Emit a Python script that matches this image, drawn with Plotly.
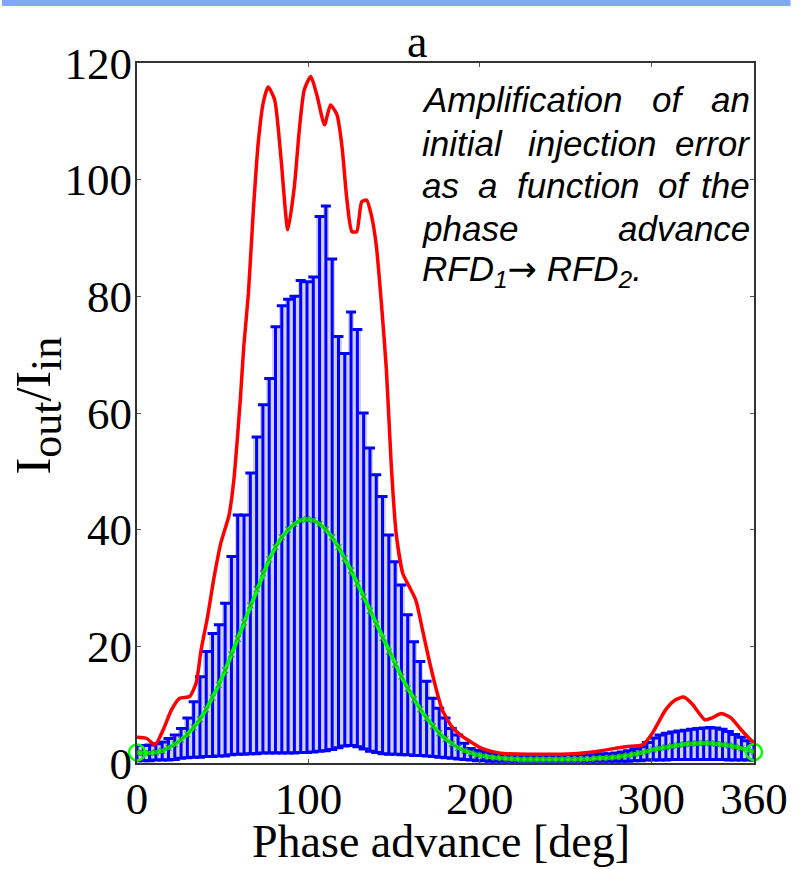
import numpy as np
import plotly.graph_objects as go

# ---------------- data ----------------
# phase grid of the error-bar scan (99 points over one turn)
phase = np.linspace(0, 360, 99)

# upper / lower end of the spread of I_out/I_in at each phase
upper = [3.0, 3.0, 3.1, 3.3, 3.6, 4.2, 4.8, 5.9,
         7.7, 10.5, 14.8, 19.1, 22.2, 23.7, 27.4, 35.4, 42.5, 42.5, 49.7, 55.9,
         61.4, 65.9, 74.8, 78.4, 79.5, 80.0, 82.7, 82.5, 83.3, 93.7, 95.5, 86.4,
         73.1, 70.2, 77.3, 74.3, 60.0, 54.0, 49.4, 45.7, 39.1, 34.5, 30.5, 25.4,
         20.8, 17.4, 14.0, 11.1, 9.4, 7.7, 5.9, 4.8, 3.4, 2.5,
         2.2, 2.0, 1.8, 1.6,
         1.5, 1.4, 1.4, 1.3, 1.3, 1.3, 1.3, 1.3, 1.3, 1.3, 1.4, 1.4, 1.4, 1.5,
         1.5, 1.5, 1.6, 1.6,
         1.7, 1.9, 2.1, 2.4, 2.8, 3.5, 4.3, 4.8, 5.1, 5.3, 5.5, 5.6, 5.8, 5.9,
         6.0, 6.1, 6.0, 5.8, 5.4, 4.9, 4.4, 3.8, 3.2]

lower = [0.4, 0.4, 0.4, 0.5, 0.5, 0.5, 0.6,
         0.8, 0.9, 1.0, 1.0, 1.1, 1.1, 1.2, 1.2,
         1.4, 1.5, 1.5, 1.6, 1.6, 1.7, 1.7, 1.7, 1.7, 1.7, 1.7, 1.8, 1.8,
         1.9, 2.0, 2.1, 2.3, 2.6, 2.9, 3.0, 2.8, 2.4,
         2.0, 1.8, 1.6, 1.5, 1.5, 1.4, 1.4, 1.3, 1.3, 1.2, 1.1, 1.0,
         0.9, 0.8, 0.7, 0.6, 0.5, 0.4, 0.4,
         0.3, 0.3, 0.3, 0.3, 0.3, 0.3, 0.3, 0.3, 0.3, 0.3, 0.3, 0.3, 0.3, 0.3,
         0.3, 0.3, 0.3, 0.3, 0.3, 0.3, 0.3, 0.3, 0.3,
         0.4, 0.4, 0.5, 0.5, 0.5, 0.5, 0.6, 0.6, 0.6, 0.6, 0.6, 0.6, 0.6, 0.6,
         0.6, 0.5, 0.5, 0.5, 0.5, 0.5]

# mean amplification on the same grid
mean_gain = [1.8, 1.7, 1.7, 1.8, 2.1, 2.6, 3.2, 4.0, 4.9, 6.1, 7.5, 9.2, 11.2,
             13.4, 15.9, 18.6, 21.3, 24.1, 27.0, 29.8, 32.5, 34.9, 37.0, 38.7,
             40.0, 41.0, 41.6, 41.8, 41.6, 41.0, 40.0, 38.7, 37.0, 35.1, 33.0,
             30.8, 28.5, 26.1, 23.8, 21.4, 19.1, 16.9, 14.8, 12.8, 10.9, 9.2,
             7.7, 6.3, 5.1, 4.1, 3.3, 2.6, 2.1, 1.7, 1.4, 1.2, 1.0, 0.9,
             0.8, 0.7, 0.7, 0.6, 0.6, 0.6, 0.6, 0.6, 0.6, 0.6, 0.6, 0.6, 0.6,
             0.7, 0.7, 0.8, 0.8, 0.9, 1.0,
             1.1, 1.3, 1.5, 1.7, 2.0, 2.3, 2.5, 2.7, 2.9, 3.1, 3.2, 3.3, 3.4,
             3.4, 3.4, 3.3, 3.2, 3.0, 2.8, 2.5, 2.2, 1.9]

# maximum amplification envelope
red_phase = [0, 5.7, 10.5, 15.3, 20.1, 24.9, 30.7, 34.5, 37.4, 41.2, 45, 48.9,
             53.7, 56.5, 58.5, 60.4, 62.3, 65, 67.9, 70.7, 73.6, 76.5, 80.3,
             84.1, 88, 91.8, 94.7, 97.6, 101.4, 105.2, 109.4, 112.9, 116.7,
             119.6, 122.5, 125.4, 128.2, 131.1, 134, 136.9, 139.7, 142.6,
             145.5, 148.4, 151.2, 155.1, 158.9, 162.7, 166.6, 170.4, 174.2,
             178.1, 183.8, 189.6, 195.3, 201.1, 206.8, 215, 230, 247, 266,
             285, 295, 300.7, 308.4, 314, 318.9, 323.7, 331.4, 335.2, 341,
             346.7, 352.5, 358.3, 360]
red_gain = [4.4, 4.2, 3.1, 5.7, 9.1, 11.1, 11.4, 13.7, 19.4, 25.1, 31.9, 37.7,
            42.5, 48.5, 55.4, 62.8, 71.4, 80.5, 94.8, 106.2, 113.1, 115.9, 113.7,
            103.4, 91.4, 98.8, 108.5, 115.4, 117.7, 114.2, 109.4, 112.8, 111.1,
            105.7, 96.5, 91.1, 91.1, 96.2, 96.5, 93.7, 88.5, 78.8,
            67.5, 50.8, 39.4, 32.5, 30.2, 27.9, 22.8, 17.7, 13.1,
            9.1, 6.2, 4.6, 3.5, 2.5, 2.0, 1.6, 1.5, 1.5, 1.9,
            2.8, 3.1, 5.1, 9.1, 10.8, 11.3, 10.2, 7.4, 7.7, 8.5,
            7.7, 5.7, 3.9, 3.5]

# green floor marks just under the axis
floor_phase = [207, 211, 215, 219, 223, 227, 231, 235, 239, 243, 247, 251,
               255, 259, 263, 267, 270]
floor_gain = [-1.0] * len(floor_phase)

# end markers of the mean curve
end_phase = [0, 360]
end_gain = [1.8, 1.9]

x_ticks = [0, 100, 200, 300, 360]
y_ticks = [0, 20, 40, 60, 80, 100, 120]

# ---------------- layout helpers ----------------
L, R, T, B = 137, 763, 63, 763
W_FIG, H_FIG = 800, 870


def fx(px):
    return (px - L) / (R - L)


def fy(py):
    return (B - py) / (B - T)


SERIF = "Liberation Serif, Times New Roman, serif"
SANS = "Liberation Sans, Arial, sans-serif"
BLUE = "#0000ff"
RED = "#ff0000"
GREEN = "#00ff00"

fig = go.Figure()

span = [u - l for u, l in zip(upper, lower)]

# pale fill between neighbouring error bars
fig.add_trace(go.Bar(
    x=phase, y=span, base=lower, width=360 / 98,
    marker=dict(color="#cfcfff", line=dict(width=0)), hoverinfo="skip"))

# spread of the amplification: vertical error bars
fig.add_trace(go.Scatter(
    x=phase, y=lower, mode="markers",
    marker=dict(size=1, color="rgba(0,0,0,0)"),
    error_y=dict(type="data", symmetric=False, array=span,
                 arrayminus=[0] * len(span), color=BLUE,
                 thickness=3, width=5),
    hoverinfo="skip"))

# envelope
fig.add_trace(go.Scatter(
    x=red_phase, y=red_gain, mode="lines",
    line=dict(color=RED, width=3.5, shape="spline", smoothing=0.6)))

# mean curve
fig.add_trace(go.Scatter(
    x=phase, y=mean_gain, mode="lines+markers",
    line=dict(color=GREEN, width=4),
    marker=dict(symbol="x-thin", size=6, color=GREEN,
                line=dict(color="#22aa22", width=1.2))))

fig.add_trace(go.Scatter(
    x=floor_phase, y=floor_gain, mode="markers", cliponaxis=False,
    marker=dict(symbol="line-ew", size=7, color=GREEN,
                line=dict(color="#33dd33", width=2.5))))

fig.add_trace(go.Scatter(
    x=end_phase, y=end_gain, mode="markers", cliponaxis=False,
    marker=dict(symbol="circle-open", size=16, color=GREEN,
                line=dict(color=GREEN, width=2.5))))

axis_common = dict(
    showgrid=False, zeroline=False, showline=True, linecolor="#333333",
    linewidth=2, mirror="ticks", ticks="inside", ticklen=4, tickwidth=1,
    tickcolor="#555555", tickfont=dict(family=SERIF, size=45, color="black"))

fig.update_xaxes(range=[0, 360], tickvals=x_ticks,
                 ticktext=[str(v) for v in x_ticks],
                 ticklabelstandoff=-5, **axis_common)
fig.update_yaxes(range=[0, 120], tickvals=y_ticks,
                 ticktext=[str(v) for v in y_ticks],
                 ticklabelstandoff=-6, **axis_common)

TXT = dict(family=SERIF, size=46, color="black")
annotations = [
    dict(text="a", x=fx(421), y=fy(42), font=TXT),
    dict(text="Phase advance [deg]", x=fx(445), y=fy(841), font=TXT),
    dict(text="I<sub><span style='font-size:44px'>out</span></sub>/"
              "I<sub><span style='font-size:44px'>in</span></sub>",
         x=fx(37), y=fy(405), textangle=-90,
         font=dict(family=SERIF, size=50, color="black")),
]

# justified italic caption inside the plot
ARIAL_W = {"A": 667, "m": 833, "p": 556, "l": 222, "i": 222, "f": 278,
           "c": 500, "a": 556, "t": 278, "o": 556, "n": 556, "j": 222,
           "e": 556, "r": 333, "s": 500, "u": 556, "h": 556, "d": 556,
           "v": 500}
CAP_SIZE = 35
CAP_LEFT, CAP_RIGHT = 424, 761
CAP_FONT = dict(family=SANS, size=CAP_SIZE, color="black", style="italic")
caption_lines = [
    ["Amplification", "of", "an"],
    ["initial", "injection", "error"],
    ["as", "a", "function", "of", "the"],
    ["phase", "advance"],
]
line_y = [100, 143, 185, 228]
for words, py in zip(caption_lines, line_y):
    widths = [sum(ARIAL_W[c] for c in w) * CAP_SIZE / 1000 for w in words]
    gap = (CAP_RIGHT - CAP_LEFT - sum(widths)) / (len(words) - 1)
    xpos = CAP_LEFT
    for k, (w, wd) in enumerate(zip(words, widths)):
        last = k == len(words) - 1
        annotations.append(dict(
            text=w, x=fx(CAP_RIGHT if last else xpos), y=fy(py),
            xanchor="right" if last else "left", font=CAP_FONT))
        xpos += wd + gap
annotations.append(dict(
    text="RFD<sub>1</sub><span style='font-family:DejaVu Sans'>\u2192</span>"
         " RFD<sub>2</sub>.",
    x=fx(CAP_LEFT), y=fy(271), xanchor="left", font=CAP_FONT))

for a in annotations:
    a.setdefault("xanchor", "center")
    a.setdefault("yanchor", "middle")
    a.update(xref="paper", yref="paper", showarrow=False)

fig.update_layout(
    width=W_FIG, height=H_FIG,
    margin=dict(l=L, r=W_FIG - R, t=T, b=H_FIG - B),
    paper_bgcolor="white", plot_bgcolor="white",
    showlegend=False, annotations=annotations, bargap=0,
    shapes=[dict(type="rect", xref="paper", yref="paper",
                 x0=fx(0), x1=fx(W_FIG), y0=fy(6), y1=fy(0),
                 fillcolor="#7fa9f5", line=dict(width=0), layer="above")])

fig.write_html("out.html")
